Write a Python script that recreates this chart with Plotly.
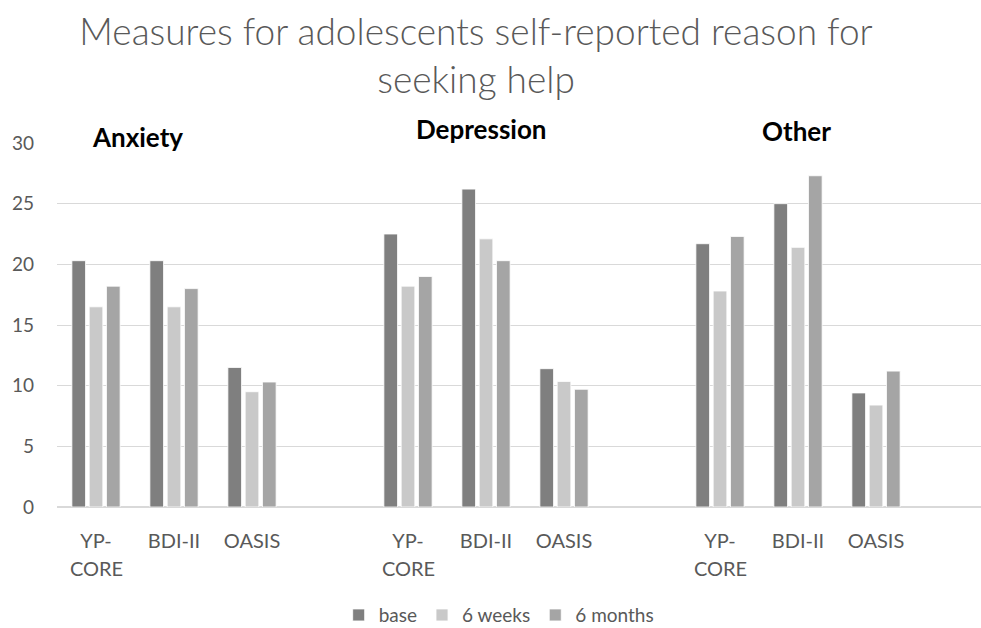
import plotly.graph_objects as go

groups = ["Anxiety", "Depression", "Other"]
measures = ["YP-CORE", "BDI-II", "OASIS"]
series_names = ["base", "6 weeks", "6 months"]
colors = ["#7f7f7f", "#c9c9c9", "#a5a5a5"]

# values per group, in the order YP-CORE, BDI-II, OASIS
base = {
    "Anxiety": [20.3, 20.3, 11.5],
    "Depression": [22.5, 26.2, 11.4],
    "Other": [21.7, 25.0, 9.4],
}
weeks6 = {
    "Anxiety": [16.5, 16.5, 9.5],
    "Depression": [18.2, 22.1, 10.35],
    "Other": [17.8, 21.4, 8.4],
}
months6 = {
    "Anxiety": [18.2, 18.0, 10.3],
    "Depression": [19.0, 20.3, 9.7],
    "Other": [22.3, 27.3, 11.2],
}

tick_first = {"YP-CORE": "YP-", "BDI-II": "BDI-II", "OASIS": "OASIS"}

# build category list with a blank slot after each group
cats, ticktext = [], []
for g in groups:
    for m in measures:
        cats.append(f"{g}|{m}")
        ticktext.append(tick_first[m])
    cats.append(f"{g}|gap")
    ticktext.append("")

def series(d):
    xs, ys = [], []
    for g in groups:
        for m, v in zip(measures, d[g]):
            xs.append(f"{g}|{m}")
            ys.append(v)
    return xs, ys

FONT = "Lato"
GREY = "#595959"

fig = go.Figure()
for name, d, c in zip(series_names, [base, weeks6, months6], colors):
    xs, ys = series(d)
    fig.add_trace(go.Bar(x=xs, y=ys, name=name, marker=dict(color=c, line=dict(color="#ffffff", width=0.8))))

annotations = []
for g in groups:
    annotations.append(dict(x=f"{g}|YP-CORE", xref="x", y=0, yref="y", text="CORE",
                             showarrow=False, yshift=-61, yanchor="middle",
                             font=dict(family=FONT, size=20, color=GREY)))
label_pos = {"Anxiety": ("Anxiety|YP-CORE", 41, 1.0165), "Depression": ("Depression|BDI-II", -5, 1.038), "Other": ("Other|BDI-II", -2, 1.033)}
for g in groups:
    x, sh, yy = label_pos[g]
    annotations.append(dict(x=x, xref="x", xshift=sh, y=yy, yref="paper", yanchor="middle", xanchor="center",
                            text=f"<b>{g}</b>",
                            showarrow=False, font=dict(family=FONT, size=26, color="#000000")))

fig.update_layout(
    width=981, height=628,
    paper_bgcolor="#ffffff", plot_bgcolor="#ffffff",
    margin=dict(l=57, r=0, t=143, b=121, autoexpand=False),
    barmode="group", bargap=0.335, bargroupgap=0.21,
    title=dict(text="Measures for adolescents self-reported reason for<br>seeking help",
               x=476/981, xanchor="center", y=0.928, yanchor="middle",
               font=dict(family=FONT, size=37, color=GREY, weight=300)),
    xaxis=dict(type="category", categoryorder="array", categoryarray=cats,
               tickmode="array", tickvals=cats, ticktext=ticktext, automargin=False,
               range=[-0.5, 11.346], showgrid=False, zeroline=False, showline=False,
               ticks="", ticklabelstandoff=20, tickfont=dict(family=FONT, size=20, color=GREY)),
    yaxis=dict(range=[0, 30], dtick=5, showgrid=True, gridcolor="#d9d9d9", gridwidth=1,
               zeroline=True, zerolinecolor="#d9d9d9", zerolinewidth=2, showline=False, automargin=False,
               ticks="", ticklabelstandoff=22, tickfont=dict(family=FONT, size=19, color=GREY)),
    legend=dict(orientation="h", x=0.478, xanchor="center", y=-0.297, yanchor="middle",
                font=dict(family=FONT, size=19, color=GREY), traceorder="normal"),
    annotations=annotations,
)

fig.write_html("out.html")
